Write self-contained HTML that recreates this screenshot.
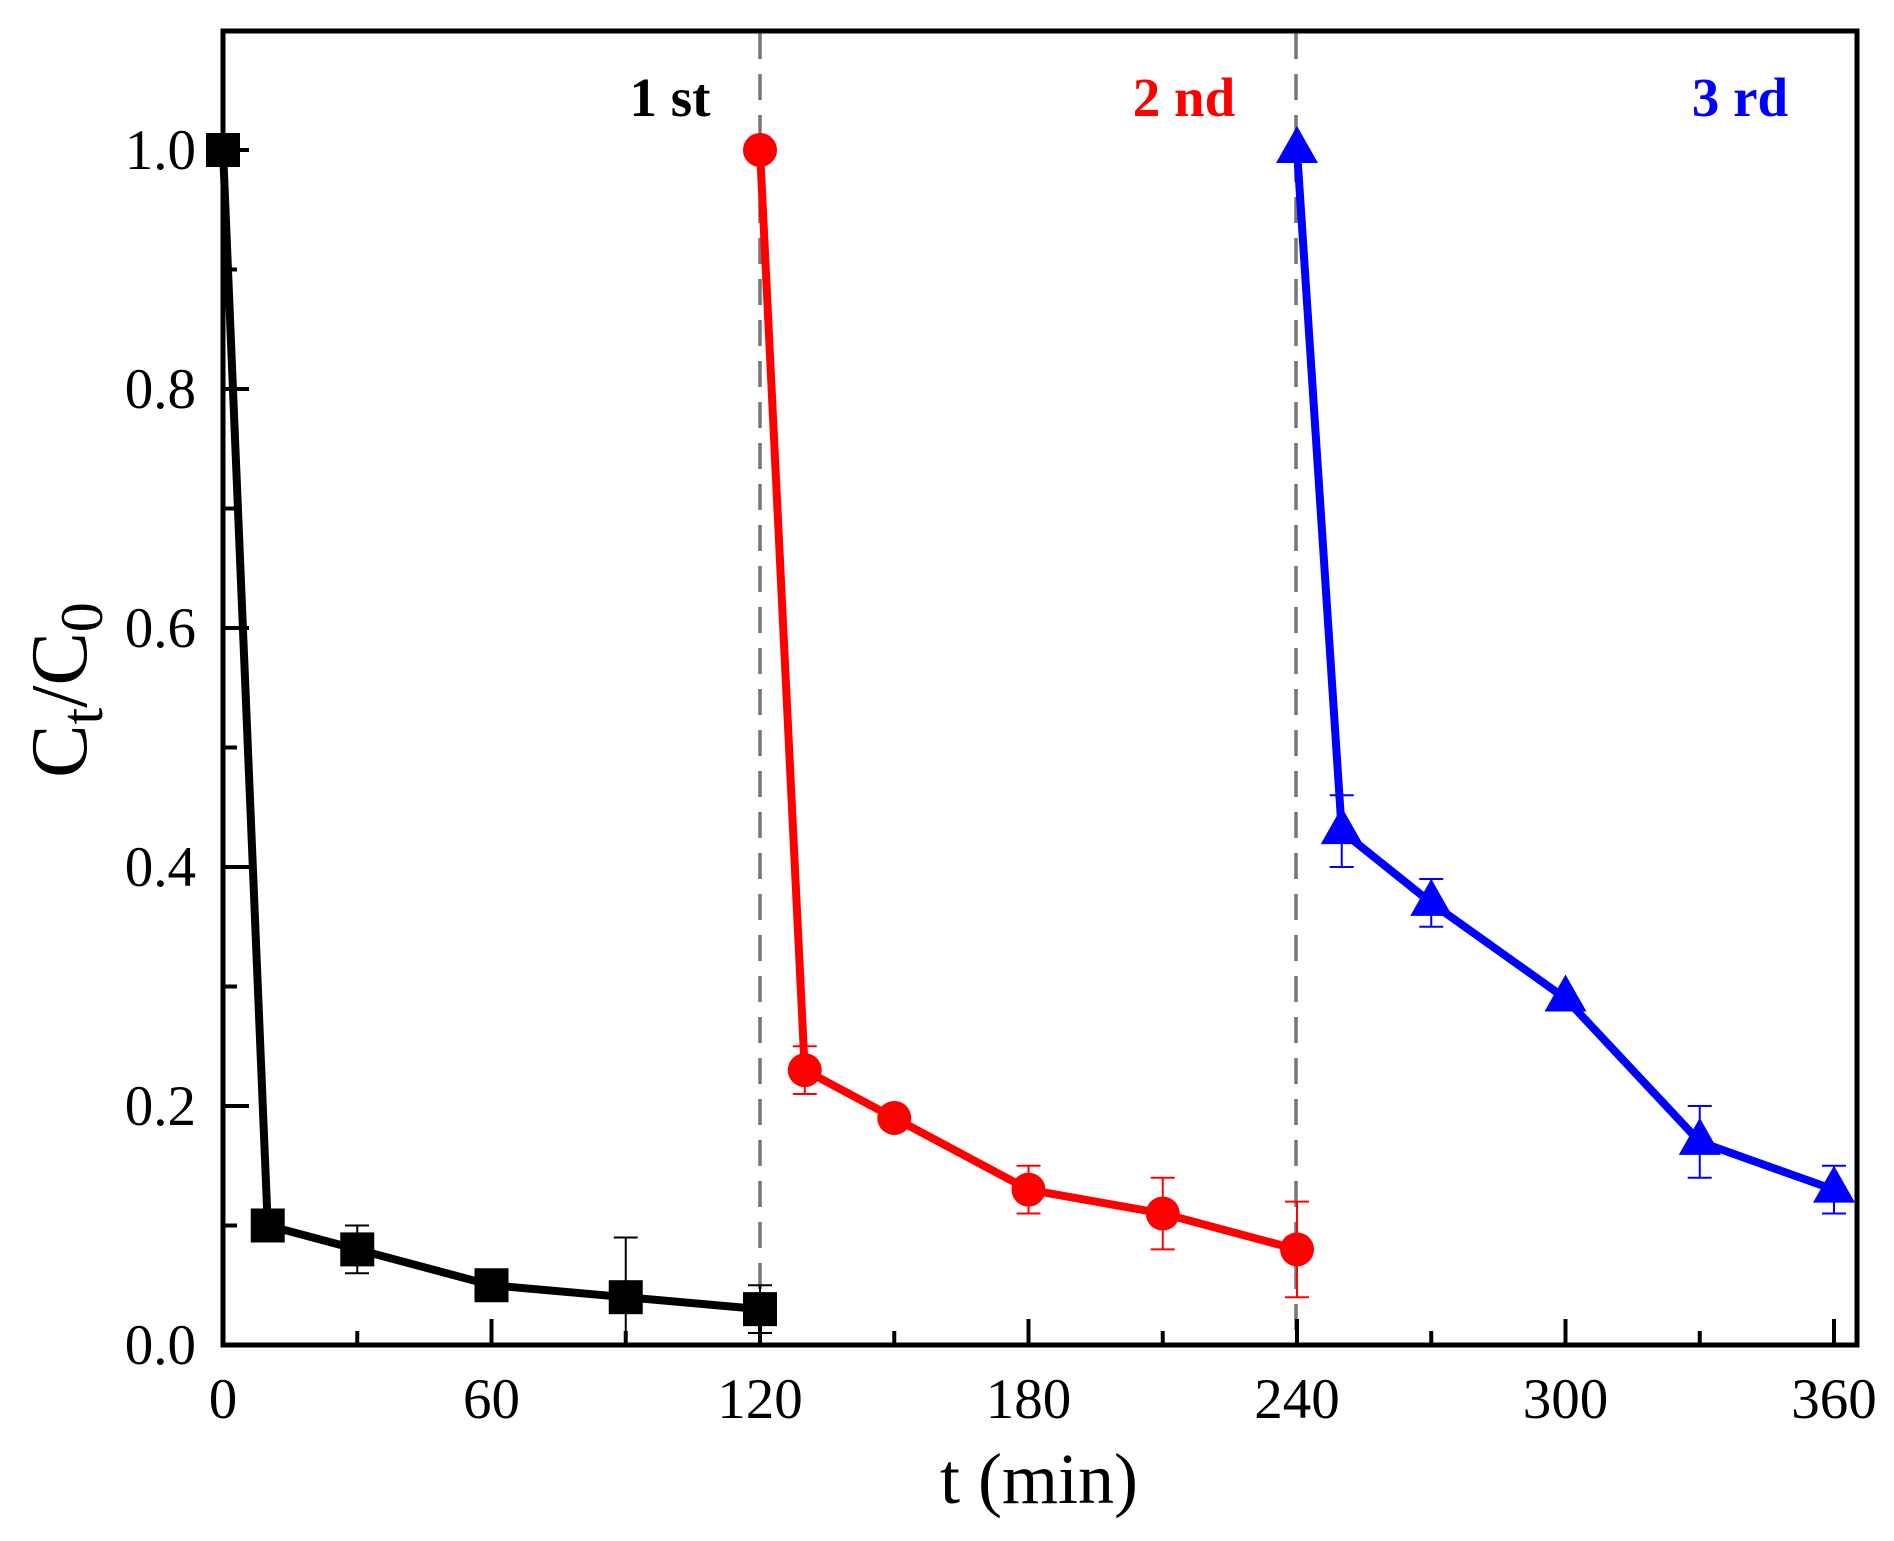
<!DOCTYPE html>
<html><head><meta charset="utf-8"><style>body{margin:0;background:#fff}svg{display:block}</style></head>
<body>
<svg width="1894" height="1541" viewBox="0 0 1894 1541" xmlns="http://www.w3.org/2000/svg" font-family="Liberation Serif, serif">
<rect width="1894" height="1541" fill="#fff"/>
<line x1="760" y1="33" x2="760" y2="1345" stroke="#777" stroke-width="3.5" stroke-dasharray="26,15"/>
<line x1="1296" y1="33" x2="1296" y2="1345" stroke="#777" stroke-width="3.5" stroke-dasharray="26,15"/>
<g stroke="#000" stroke-width="4">
<path d="M223 1345V1319M491.5 1345V1319M760 1345V1319M1028.5 1345V1319M1297 1345V1319M1565.5 1345V1319M1834 1345V1319"/>
<path d="M357.25 1345V1331M625.75 1345V1331M894.25 1345V1331M1162.75 1345V1331M1431.25 1345V1331M1699.75 1345V1331"/>
<path d="M223 1345H249M223 1106H249M223 867H249M223 628H249M223 389H249M223 150H249"/>
<path d="M223 1225.5H237M223 986.5H237M223 747.5H237M223 508.5H237M223 269.5H237"/>
</g>
<g font-size="57" text-anchor="middle">
<text x="223" y="1418">0</text><text x="491.5" y="1418">60</text><text x="760" y="1418">120</text><text x="1028.5" y="1418">180</text><text x="1297" y="1418">240</text><text x="1565.5" y="1418">300</text><text x="1834" y="1418">360</text>
</g>
<g font-size="57" text-anchor="end">
<text x="196" y="1364">0.0</text><text x="196" y="1125">0.2</text><text x="196" y="886">0.4</text><text x="196" y="647">0.6</text><text x="196" y="408">0.8</text><text x="196" y="169">1.0</text>
</g>
<!-- black -->
<path d="M357.25 1273.3V1225.5M345 1273.3h24M345 1225.5h24M625.75 1345V1237.45M613.75 1237.45h24M760 1333V1285.25M748 1333h24M748 1285.25h24" stroke="#000" stroke-width="2"/>
<polyline points="223,150 267.75,1225.5 357.25,1249.4 491.5,1285.25 625.75,1297.2 760,1309.15" fill="none" stroke="#000" stroke-width="8" stroke-linejoin="round"/>
<g fill="#000">
<rect x="206" y="133" width="34" height="34"/><rect x="250.75" y="1208.5" width="34" height="34"/><rect x="340.25" y="1232.4" width="34" height="34"/><rect x="474.5" y="1268.25" width="34" height="34"/><rect x="608.75" y="1280.2" width="34" height="34"/><rect x="743" y="1292.15" width="34" height="34"/>
</g>
<!-- red -->
<path d="M804.75 1094.05V1046.25M792.75 1094.05h24M792.75 1046.25h24M1028.5 1213.55V1165.75M1016.5 1213.55h24M1016.5 1165.75h24M1162.75 1249.4V1177.7M1150.75 1249.4h24M1150.75 1177.7h24M1297 1297.2V1201.6M1285 1297.2h24M1285 1201.6h24" stroke="#f00" stroke-width="2"/>
<polyline points="760,150 804.75,1070.15 894.25,1117.95 1028.5,1189.65 1162.75,1213.55 1297,1249.4" fill="none" stroke="#f00" stroke-width="8" stroke-linejoin="round"/>
<g fill="#f00">
<circle cx="760" cy="150" r="17"/><circle cx="804.75" cy="1070.15" r="17"/><circle cx="894.25" cy="1117.95" r="17"/><circle cx="1028.5" cy="1189.65" r="17"/><circle cx="1162.75" cy="1213.55" r="17"/><circle cx="1297" cy="1249.4" r="17"/>
</g>
<!-- blue -->
<path d="M1341.75 867V795.3M1329.75 867h24M1329.75 795.3h24M1431.25 926.75V878.95M1419.25 926.75h24M1419.25 878.95h24M1699.75 1177.7V1106M1687.75 1177.7h24M1687.75 1106h24M1834 1213.55V1165.75M1822 1213.55h24M1822 1165.75h24" stroke="#00f" stroke-width="2"/>
<polyline points="1297,150 1341.75,831.15 1431.25,902.85 1565.5,998.45 1699.75,1141.85 1834,1189.65" fill="none" stroke="#00f" stroke-width="8" stroke-linejoin="round"/>
<g fill="#00f">
<polygon points="1297,126 1276,163 1318,163"/><polygon points="1341.75,807.15 1320.75,844.15 1362.75,844.15"/><polygon points="1431.25,878.85 1410.25,915.85 1452.25,915.85"/><polygon points="1565.5,974.45 1544.5,1011.45 1586.5,1011.45"/><polygon points="1699.75,1117.85 1678.75,1154.85 1720.75,1154.85"/><polygon points="1834,1165.65 1813,1202.65 1855,1202.65"/>
</g>
<rect x="223" y="31" width="1634" height="1314" fill="none" stroke="#000" stroke-width="5"/>
<text x="670" y="116" font-size="55" font-weight="bold" text-anchor="middle">1 st</text>
<text x="1184" y="116" font-size="55" font-weight="bold" fill="#f00" text-anchor="middle">2 nd</text>
<text x="1740" y="116" font-size="55" font-weight="bold" fill="#00f" text-anchor="middle">3 rd</text>
<text x="1039" y="1503" font-size="72" text-anchor="middle">t (min)</text>
<text transform="translate(86,690) rotate(-90)" font-size="80" text-anchor="middle">C<tspan font-size="60" dy="16">t</tspan><tspan dy="-16">/C</tspan><tspan font-size="60" dy="16">0</tspan></text>
</svg>
</body></html>
